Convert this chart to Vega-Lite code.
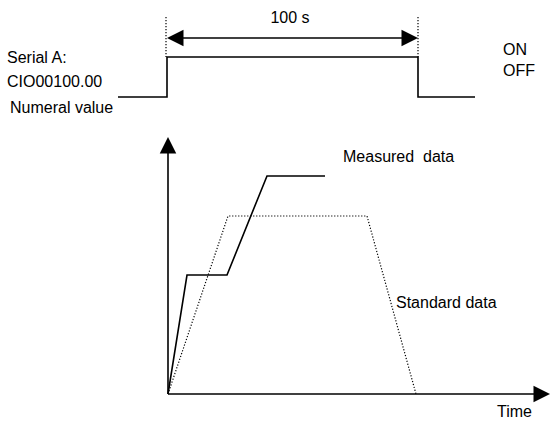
{
  "$schema": "https://vega.github.io/schema/vega-lite/v6.json",
  "width": 557,
  "height": 421,
  "autosize": {"type": "none"},
  "padding": 0,
  "background": "white",
  "config": {"view": {"stroke": null}},
  "datasets": {
    "lines": [
      {"id": "pulse", "order": 1, "x": 118, "y": 97},
      {"id": "pulse", "order": 2, "x": 167, "y": 97},
      {"id": "pulse", "order": 3, "x": 167, "y": 57},
      {"id": "pulse", "order": 4, "x": 418, "y": 57},
      {"id": "pulse", "order": 5, "x": 418, "y": 97},
      {"id": "pulse", "order": 6, "x": 475, "y": 97},
      {"id": "span", "order": 1, "x": 170, "y": 38},
      {"id": "span", "order": 2, "x": 415, "y": 38},
      {"id": "yaxis", "order": 1, "x": 168, "y": 394},
      {"id": "yaxis", "order": 2, "x": 168, "y": 152},
      {"id": "xaxis", "order": 1, "x": 168, "y": 394},
      {"id": "xaxis", "order": 2, "x": 535, "y": 394},
      {"id": "measured", "order": 1, "x": 168, "y": 394},
      {"id": "measured", "order": 2, "x": 187, "y": 275},
      {"id": "measured", "order": 3, "x": 227, "y": 275},
      {"id": "measured", "order": 4, "x": 267, "y": 176},
      {"id": "measured", "order": 5, "x": 325, "y": 176}
    ],
    "dotted": [
      {"id": "left", "order": 1, "x": 166, "y": 17},
      {"id": "left", "order": 2, "x": 166, "y": 57},
      {"id": "right", "order": 1, "x": 418, "y": 17},
      {"id": "right", "order": 2, "x": 418, "y": 57},
      {"id": "standard", "order": 1, "x": 168, "y": 394},
      {"id": "standard", "order": 2, "x": 228, "y": 216},
      {"id": "standard", "order": 3, "x": 367, "y": 216},
      {"id": "standard", "order": 4, "x": 416, "y": 394}
    ],
    "heads": [
      {"dir": "left", "x": 167, "y": 38},
      {"dir": "right", "x": 418, "y": 38},
      {"dir": "up", "x": 168, "y": 137},
      {"dir": "right", "x": 550, "y": 394}
    ],
    "labels": [
      {"text": "100 s", "x": 290, "y": 18, "align": "center"},
      {"text": "Serial A:", "x": 7, "y": 58, "align": "left"},
      {"text": "CIO00100.00", "x": 7, "y": 82, "align": "left"},
      {"text": "ON", "x": 503, "y": 50, "align": "left"},
      {"text": "OFF", "x": 503, "y": 71, "align": "left"},
      {"text": "Numeral value", "x": 10, "y": 108, "align": "left"},
      {"text": "Measured\u00a0 data", "x": 343, "y": 157, "align": "left"},
      {"text": "Standard data", "x": 396, "y": 303, "align": "left"},
      {"text": "Time", "x": 497, "y": 412, "align": "left"}
    ]
  },
  "layer": [
    {
      "data": {"name": "lines"},
      "mark": {"type": "line", "color": "black", "strokeWidth": 1.6, "strokeCap": "butt", "strokeJoin": "miter"},
      "encoding": {
        "x": {"field": "x", "type": "quantitative", "scale": {"domain": [0, 557]}, "axis": null},
        "y": {"field": "y", "type": "quantitative", "scale": {"domain": [421, 0]}, "axis": null},
        "detail": {"field": "id"},
        "order": {"field": "order"}
      }
    },
    {
      "data": {"name": "dotted"},
      "mark": {"type": "line", "color": "black", "strokeWidth": 1.2, "strokeDash": [1.2, 1.8]},
      "encoding": {
        "x": {"field": "x", "type": "quantitative", "scale": {"domain": [0, 557]}, "axis": null},
        "y": {"field": "y", "type": "quantitative", "scale": {"domain": [421, 0]}, "axis": null},
        "detail": {"field": "id"},
        "order": {"field": "order"}
      }
    },
    {
      "data": {"name": "heads"},
      "transform": [{"filter": "datum.dir === 'left'"}],
      "mark": {"type": "point", "filled": true, "color": "black", "opacity": 1, "size": 272, "shape": "M 0 0 L 2 -1 L 2 1 Z"},
      "encoding": {
        "x": {"field": "x", "type": "quantitative", "scale": {"domain": [0, 557]}, "axis": null},
        "y": {"field": "y", "type": "quantitative", "scale": {"domain": [421, 0]}, "axis": null}
      }
    },
    {
      "data": {"name": "heads"},
      "transform": [{"filter": "datum.dir === 'right'"}],
      "mark": {"type": "point", "filled": true, "color": "black", "opacity": 1, "size": 272, "shape": "M 0 0 L -2 -1 L -2 1 Z"},
      "encoding": {
        "x": {"field": "x", "type": "quantitative", "scale": {"domain": [0, 557]}, "axis": null},
        "y": {"field": "y", "type": "quantitative", "scale": {"domain": [421, 0]}, "axis": null}
      }
    },
    {
      "data": {"name": "heads"},
      "transform": [{"filter": "datum.dir === 'up'"}],
      "mark": {"type": "point", "filled": true, "color": "black", "opacity": 1, "size": 272, "shape": "M 0 0 L -1 2 L 1 2 Z"},
      "encoding": {
        "x": {"field": "x", "type": "quantitative", "scale": {"domain": [0, 557]}, "axis": null},
        "y": {"field": "y", "type": "quantitative", "scale": {"domain": [421, 0]}, "axis": null}
      }
    },
    {
      "data": {"name": "labels"},
      "transform": [{"filter": "datum.align === 'left'"}],
      "mark": {"type": "text", "font": "Liberation Sans", "fontSize": 16, "color": "black", "baseline": "middle", "align": "left"},
      "encoding": {
        "x": {"field": "x", "type": "quantitative", "scale": {"domain": [0, 557]}, "axis": null},
        "y": {"field": "y", "type": "quantitative", "scale": {"domain": [421, 0]}, "axis": null},
        "text": {"field": "text"}
      }
    },
    {
      "data": {"name": "labels"},
      "transform": [{"filter": "datum.align === 'center'"}],
      "mark": {"type": "text", "font": "Liberation Sans", "fontSize": 16, "color": "black", "baseline": "middle", "align": "center"},
      "encoding": {
        "x": {"field": "x", "type": "quantitative", "scale": {"domain": [0, 557]}, "axis": null},
        "y": {"field": "y", "type": "quantitative", "scale": {"domain": [421, 0]}, "axis": null},
        "text": {"field": "text"}
      }
    }
  ]
}
